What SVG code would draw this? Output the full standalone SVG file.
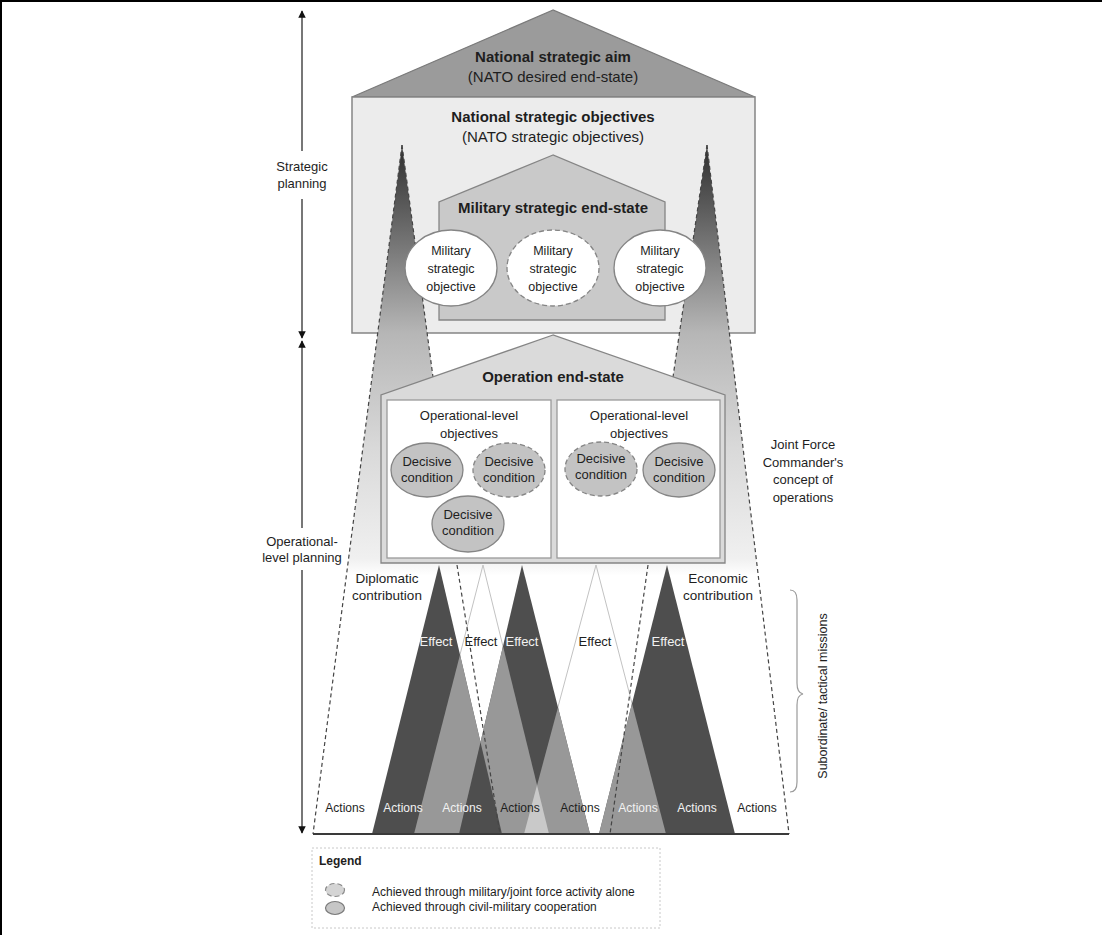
<svg xmlns="http://www.w3.org/2000/svg" width="1102" height="935" viewBox="0 0 1102 935">
<defs>
<linearGradient id="stripGrad" gradientUnits="userSpaceOnUse" x1="0" y1="145" x2="0" y2="834">
<stop offset="0" stop-color="#2e2e2e"/>
<stop offset="0.273" stop-color="#b6b6b6"/>
<stop offset="0.44" stop-color="#d9d9d9"/>
<stop offset="0.6" stop-color="#f0f0f0"/>
<stop offset="0.625" stop-color="#ffffff"/>
<stop offset="1" stop-color="#ffffff"/>
</linearGradient>
<marker id="ah" viewBox="0 0 10 10" refX="9" refY="5" markerWidth="5" markerHeight="5" orient="auto-start-reverse"><path d="M0,0 L10,5 L0,10 z" fill="#111"/></marker>
<style>
.txt{font-family:"Liberation Sans",Arial,sans-serif;fill:#1e1e1e;text-anchor:middle}
.b{font-weight:bold}
.s15{font-size:15px}
.s135{font-size:13.5px}
.s13{font-size:13px}
.s125{font-size:12.5px}
.s12{font-size:12px}
.wt{fill:#f2f2f2}
.edge{fill:none;stroke:#454545;stroke-width:1.2;stroke-dasharray:4 3}
.dark{fill:#4e4e4e}
.gray{fill:#989898}
.light{fill:#c9c9c9}
.wtri{fill:none;stroke:#c2c2c2;stroke-width:1}
.oval{stroke:#858585;stroke-width:1.3}
.dash{stroke-dasharray:5 3}
.dc{fill:#c3c3c3}
</style>
</defs>
<rect x="0" y="0" width="1102" height="935" fill="#ffffff"/>
<g id="frame">
<rect x="0" y="0" width="1102" height="2" fill="#000"/>
<rect x="0" y="0" width="2" height="935" fill="#000"/>
</g>

<g id="national-strategic-aim">
<polygon points="553,10 352,97 755,97" fill="#9b9b9b" stroke="#7a7a7a" stroke-width="1.3"/>
<text class="txt b s15" x="553" y="62">National strategic aim</text>
<text class="txt s15" x="553" y="82">(NATO desired end-state)</text>
</g>

<g id="national-strategic-objectives">
<rect x="352" y="97" width="403" height="236" fill="#ececec" stroke="#858585" stroke-width="1.5"/>
<text class="txt b s15" x="553" y="122">National strategic objectives</text>
<text class="txt s15" x="553" y="142">(NATO strategic objectives)</text>
</g>

<g id="jfc-concept">
<polygon points="402,145 313,834 789,834 707,145 673,377 433,377" fill="url(#stripGrad)"/>
<line class="edge" x1="402" y1="145" x2="313" y2="834"/>
<line class="edge" x1="707" y1="145" x2="789" y2="834"/>
<line class="edge" x1="402" y1="145" x2="433" y2="377"/>
<line class="edge" x1="707" y1="145" x2="673" y2="377"/>
</g>

<g id="military-strategic-end-state">
<polygon points="553,155 439,202 439,320 665,320 665,202" fill="#c9c9c9" stroke="#858585" stroke-width="1.3"/>
<text class="txt b s15" x="553" y="213">Military strategic end-state</text>
</g>

<g id="mso-1">
<ellipse class="oval" cx="451" cy="268" rx="46" ry="38" fill="#fff"/>
<text class="txt s125"><tspan x="451" y="255">Military</tspan><tspan x="451" y="273">strategic</tspan><tspan x="451" y="291">objective</tspan></text>
</g>
<g id="mso-2">
<ellipse class="oval dash" cx="553" cy="268" rx="46" ry="38" fill="#fff"/>
<text class="txt s125"><tspan x="553" y="255">Military</tspan><tspan x="553" y="273">strategic</tspan><tspan x="553" y="291">objective</tspan></text>
</g>
<g id="mso-3">
<ellipse class="oval" cx="660" cy="268" rx="46" ry="38" fill="#fff"/>
<text class="txt s125"><tspan x="660" y="255">Military</tspan><tspan x="660" y="273">strategic</tspan><tspan x="660" y="291">objective</tspan></text>
</g>

<g id="operation-end-state">
<polygon points="553,335 381,395 381,563 725,563 725,395" fill="#dadada" stroke="#858585" stroke-width="1.3"/>
<text class="txt b s15" x="553" y="382">Operation end-state</text>
</g>
<g id="olo-left">
<rect x="387" y="400" width="164" height="158" fill="#fff" stroke="#9a9a9a" stroke-width="1.3"/>
<text class="txt s13"><tspan x="469" y="420">Operational-level</tspan><tspan x="469" y="438">objectives</tspan></text>
</g>
<g id="olo-right">
<rect x="557" y="400" width="163" height="158" fill="#fff" stroke="#9a9a9a" stroke-width="1.3"/>
<text class="txt s13"><tspan x="639" y="420">Operational-level</tspan><tspan x="639" y="438">objectives</tspan></text>
</g>

<g id="dc-1">
<ellipse class="oval dc" cx="427" cy="470" rx="36" ry="27"/>
<text class="txt s13"><tspan x="427" y="466">Decisive</tspan><tspan x="427" y="482">condition</tspan></text>
</g>
<g id="dc-2">
<ellipse class="oval dc dash" cx="509" cy="470" rx="36" ry="27"/>
<text class="txt s13"><tspan x="509" y="466">Decisive</tspan><tspan x="509" y="482">condition</tspan></text>
</g>
<g id="dc-3">
<ellipse class="oval dc" cx="468" cy="524" rx="36" ry="28"/>
<text class="txt s13"><tspan x="468" y="519">Decisive</tspan><tspan x="468" y="535">condition</tspan></text>
</g>
<g id="dc-4">
<ellipse class="oval dc dash" cx="601" cy="469" rx="36" ry="27"/>
<text class="txt s13"><tspan x="601" y="463">Decisive</tspan><tspan x="601" y="479">condition</tspan></text>
</g>
<g id="dc-5">
<ellipse class="oval dc" cx="679" cy="470" rx="36" ry="27"/>
<text class="txt s13"><tspan x="679" y="466">Decisive</tspan><tspan x="679" y="482">condition</tspan></text>
</g>

<g id="effects">
<polygon class="wtri" points="483,565 414,834 549,834"/>
<polygon class="wtri" points="596,565 524,834 666,834"/>
<polygon class="dark" points="439,565 372,834 502,834"/>
<polygon class="dark" points="522,565 459,834 590,834"/>
<polygon class="dark" points="667,565 599,834 735,834"/>
<polygon class="gray" points="460,654.7 414,834 502,834"/>
<polygon class="gray" points="503,646.3 459,834 549,834"/>
<polygon class="gray" points="558,707.2 524,834 590,834"/>
<polygon class="gray" points="632,703.4 599,834 666,834"/>
<polygon class="dark" points="480.5,742.2 459,834 502,834"/>
<polygon class="light" points="537,785.2 524,834 549,834"/>
<text class="txt s13 wt" x="436" y="646">Effect</text>
<text class="txt s13" x="481" y="646">Effect</text>
<text class="txt s13 wt" x="522" y="646">Effect</text>
<text class="txt s13" x="595" y="646">Effect</text>
<text class="txt s13 wt" x="668" y="646">Effect</text>
<text class="txt s12" x="345" y="812">Actions</text>
<text class="txt s12 wt" x="403" y="812">Actions</text>
<text class="txt s12 wt" x="462" y="812">Actions</text>
<text class="txt s12" x="520" y="812">Actions</text>
<text class="txt s12" x="580" y="812">Actions</text>
<text class="txt s12 wt" x="638" y="812">Actions</text>
<text class="txt s12 wt" x="697" y="812">Actions</text>
<text class="txt s12" x="757" y="812">Actions</text>
</g>

<g id="contributions">
<line class="edge" x1="457" y1="565" x2="500" y2="834"/>
<line class="edge" x1="648" y1="565" x2="610" y2="834"/>
<line x1="313" y1="834" x2="789" y2="834" stroke="#3a3a3a" stroke-width="2"/>
<text class="txt s135"><tspan x="387" y="583">Diplomatic</tspan><tspan x="387" y="600">contribution</tspan></text>
<text class="txt s135"><tspan x="718" y="583">Economic</tspan><tspan x="718" y="600">contribution</tspan></text>
</g>

<g id="connectors" stroke="#4a4a4a" stroke-width="1.5" fill="none">
<line x1="302" y1="11" x2="302" y2="151" marker-start="url(#ah)"/>
<line x1="302" y1="199" x2="302" y2="338" marker-end="url(#ah)"/>
<line x1="302" y1="341" x2="302" y2="528" marker-start="url(#ah)"/>
<line x1="302" y1="570" x2="302" y2="833" marker-end="url(#ah)"/>
<path d="M790,590 Q797,590 797,600 L797,683 Q797,693 803,694 Q797,695 797,705 L797,782 Q797,792 790,792" stroke="#9a9a9a" stroke-width="1.2"/>
</g>

<g id="side-labels">
<text class="txt s13"><tspan x="302" y="171">Strategic</tspan><tspan x="302" y="188">planning</tspan></text>
<text class="txt s13"><tspan x="302" y="546">Operational-</tspan><tspan x="302" y="562">level planning</tspan></text>
<text class="txt s13"><tspan x="803" y="449">Joint Force</tspan><tspan x="803" y="467">Commander's</tspan><tspan x="803" y="484">concept of</tspan><tspan x="803" y="502">operations</tspan></text>
<text class="txt s125" transform="translate(827,696) rotate(-90)" x="0" y="0">Subordinate/ tactical missions</text>
</g>

<g id="legend">
<rect x="312" y="848" width="348" height="80" fill="#fff" stroke="#c8c8c8" stroke-width="1" stroke-dasharray="2 2"/>
<text class="txt b s12" x="319" y="865" style="text-anchor:start">Legend</text>
<ellipse class="dash" cx="335" cy="890" rx="9.5" ry="6.5" fill="#d4d4d4" stroke="#8a8a8a" stroke-width="1.2"/>
<ellipse cx="335" cy="908" rx="9.5" ry="6.5" fill="#c6c6c6" stroke="#7a7a7a" stroke-width="1.2"/>
<text class="txt s12" x="372" y="896" style="text-anchor:start">Achieved through military/joint force activity alone</text>
<text class="txt s12" x="372" y="911" style="text-anchor:start">Achieved through civil-military cooperation</text>
</g>
</svg>
